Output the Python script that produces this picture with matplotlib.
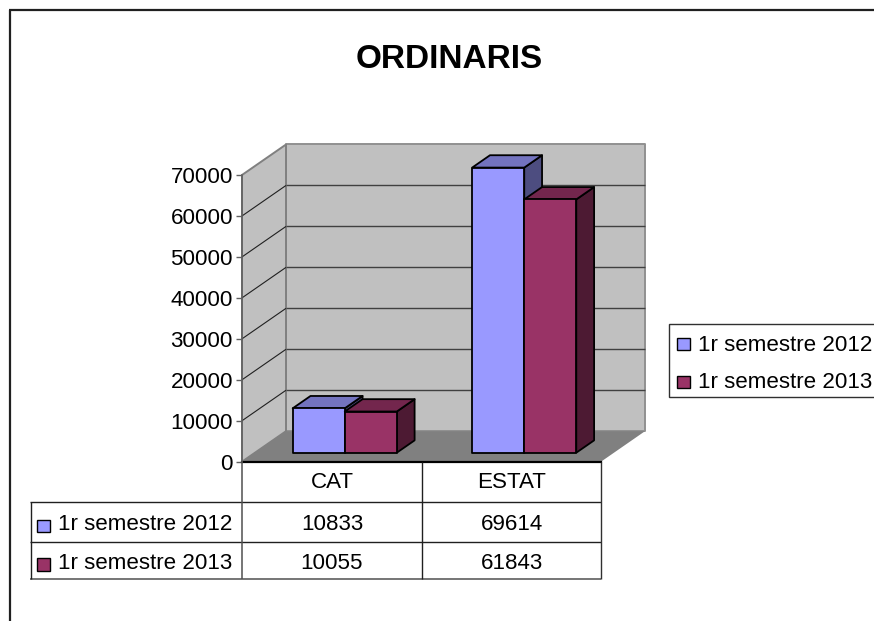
import matplotlib
matplotlib.use("Agg")
import matplotlib.pyplot as plt
from matplotlib.patches import Polygon, Rectangle
from matplotlib.lines import Line2D

plt.rcParams['font.family'] = ['Liberation Sans', 'DejaVu Sans']

title = "ORDINARIS"
categories = ["CAT", "ESTAT"]
series_names = ["1r semestre 2012", "1r semestre 2013"]
values_2012 = [10833, 69614]
values_2013 = [10055, 61843]
y_ticks = [0, 10000, 20000, 30000, 40000, 50000, 60000, 70000]

front_cols = ["#9999FF", "#993366"]
top_cols = ["#7373BF", "#73264D"]
side_cols = ["#4D4D80", "#4D1A33"]
W, H = 874, 621
fig = plt.figure(figsize=(W / 100, H / 100), dpi=100, facecolor="white")

def fx(p): return p / W
def fy(p): return 1 - p / H

X0, X1, Y0, Y1 = 242, 601, 461.7, 175
ax = fig.add_axes([fx(X0), fy(Y0), (X1 - X0) / W, (Y0 - Y1) / H])
ax.set_xlim(0, len(categories))
ax.set_ylim(0, 70000)
ax.patch.set_visible(False)
for s in ["top", "right", "bottom"]:
    ax.spines[s].set_visible(False)
ax.spines["left"].set_color("#606060")
ax.spines["left"].set_linewidth(1.1)
ax.set_xticks([])
ax.set_yticks(y_ticks)
ax.tick_params(axis="y", length=4.5, width=1, color="#606060", pad=2, labelsize=16.1, labelcolor="black")

DX = 44 / ((X1 - X0) / len(categories))
DV = 30.5 / ((Y0 - Y1) / 70000)

def P(x, v, z):
    return (x + z * DX, v + z * DV)

def poly(pts, fc, ec="none", lw=0.0, z=1):
    ax.add_patch(Polygon([P(*p) for p in pts], closed=True, facecolor=fc, edgecolor=ec,
                         linewidth=lw, zorder=z, clip_on=False, joinstyle="round"))

n = len(categories)
poly([(0, 0, 1), (n, 0, 1), (n, 70000, 1), (0, 70000, 1)], "#C0C0C0", "#909090", 1.4, 1)
poly([(0, 0, 0), (0, 70000, 0), (0, 70000, 1), (0, 0, 1)], "#C0C0C0", "#808080", 1.4, 1)
poly([(0, 0, 0), (n, 0, 0), (n, 0, 1), (0, 0, 1)], "#808080", "none", 0, 1.5)

for t in y_ticks[1:-1]:
    a, b, c = P(0, t, 0), P(0, t, 1), P(n, t, 1)
    ax.plot([a[0], b[0]], [a[1], b[1]], color="#202020", lw=0.8, zorder=2, clip_on=False,
            solid_capstyle="butt")
    ax.plot([b[0], c[0]], [b[1], c[1]], color="#404040", lw=1.0, zorder=2, clip_on=False,
            solid_capstyle="butt")

ax.plot([0, n], [0, 0], color="black", lw=1.6, zorder=2.5, clip_on=False)

BAR_W, Z0, Z1 = 0.29, 0.295, 0.70
order = 3
for i in range(n):
    for j, vals in enumerate([values_2012, values_2013]):
        x0 = i + 0.5 + (j - 1) * BAR_W
        x1 = x0 + BAR_W
        v = vals[i]
        poly([(x1, 0, Z0), (x1, 0, Z1), (x1, v, Z1), (x1, v, Z0)], side_cols[j], "black", 1.3, order)
        poly([(x0, v, Z0), (x1, v, Z0), (x1, v, Z1), (x0, v, Z1)], top_cols[j], "black", 1.3, order)
        poly([(x0, 0, Z0), (x1, 0, Z0), (x1, v, Z0), (x0, v, Z0)], front_cols[j], "black", 1.3, order + 0.1)
        order += 1

def line(xs, ys, color="black", lw=1.0):
    fig.add_artist(Line2D([fx(x) for x in xs], [fy(y) for y in ys], color=color, lw=lw,
                          solid_capstyle="butt"))

def rect(x, y, w, h, fc, ec="black", lw=1.0):
    fig.add_artist(Rectangle((fx(x), fy(y + h)), w / W, h / H, transform=fig.transFigure,
                             facecolor=fc, edgecolor=ec, linewidth=lw))

def label(x, y, s, ha="center", size=16.1, **kw):
    fig.text(fx(x), fy(y), s, ha=ha, va="center", fontsize=size, color="black", **kw)

# chart frame, cut off by the right and bottom image edges
line([9.5, 9.5], [621, 10], "#202020", 1.6)
line([8.7, 874], [10.2, 10.2], "#202020", 1.6)

fig.text(fx(449.5), fy(59), title, ha="center", va="center", fontsize=24, fontweight="bold")

# data table
T_ROWS = [502.3, 542, 578.5]
T_COLS = [242, 422, 601]
line([30, 601], [T_ROWS[0]] * 2, "#202020", 1.0)
line([30, 601], [T_ROWS[1]] * 2, "#202020", 1.0)
line([30, 601], [T_ROWS[2]] * 2, "#505050", 1.1)
line([30.5, 30.5], [T_ROWS[0], T_ROWS[2]], "#202020", 1.0)
line([T_COLS[0]] * 2, [Y0, T_ROWS[2]], "#505050", 1.1)
line([T_COLS[1]] * 2, [Y0, T_ROWS[2]], "#202020", 1.0)
line([T_COLS[2]] * 2, [Y0, T_ROWS[2]], "#303030", 1.0)

col_c = [332, 511.5]
row_c = [525, 563.5]
mark_c = [523, 561.5]
for cx, c in zip(col_c, categories):
    label(cx, 483, c)
for r, (nm, vals) in enumerate(zip(series_names, [values_2012, values_2013])):
    rect(37, mark_c[r] - 3.5, 12.5, 12.5, front_cols[r])
    label(58, row_c[r], nm, ha="left")
    for cx, v in zip(col_c, vals):
        label(cx, row_c[r], str(v))

# legend
rect(668.7, 324, 230, 73.3, "white", "#303030", 1.0)
leg_c = [345.5, 383]
mark_l = [343.5, 381]
for r, nm in enumerate(series_names):
    rect(677, mark_l[r] - 5.5, 12.5, 12.5, front_cols[r])
    label(698, leg_c[r], nm, ha="left")

fig.savefig("out.png", dpi=100)
